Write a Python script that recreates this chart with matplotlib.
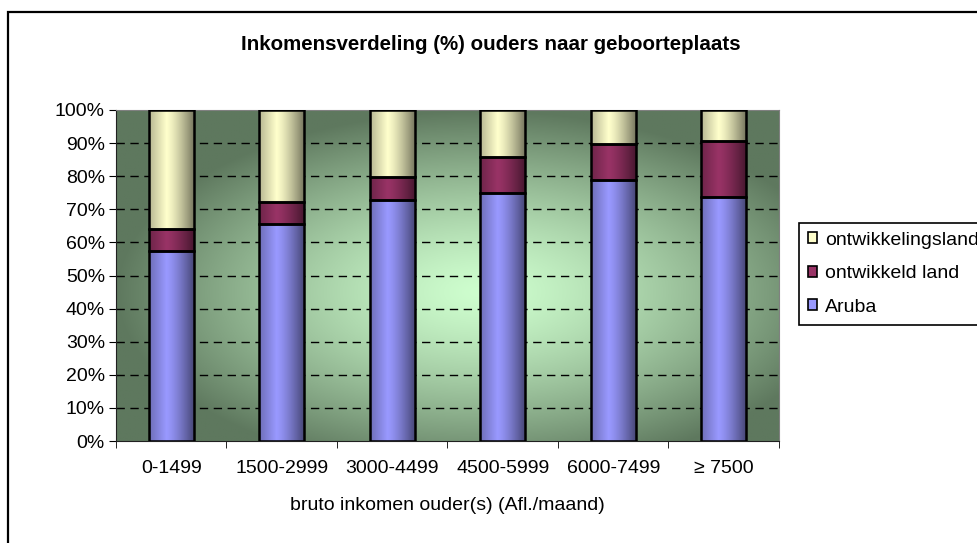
import numpy as np
import matplotlib.pyplot as plt
from matplotlib.patches import Patch, Rectangle

plt.rcParams['font.family'] = ['Liberation Sans', 'DejaVu Sans']

categories = ['0-1499', '1500-2999', '3000-4499', '4500-5999', '6000-7499', '\u2265 7500']
aruba = [57.5, 65.6, 72.8, 74.9, 78.9, 73.7]
ontwikkeld_land = [6.6, 6.7, 7.1, 10.9, 10.8, 16.9]
ontwikkelingsland = [35.9, 27.7, 20.1, 14.2, 10.3, 9.4]

series = [
    ('Aruba', aruba, '#9999ff'),
    ('ontwikkeld land', ontwikkeld_land, '#993366'),
    ('ontwikkelingsland', ontwikkelingsland, '#ffffcc'),
]

BAR_W = 0.41
FS = 14


def cylinder(color, n=64):
    # horizontal shading so each bar looks like a rounded column
    rgb = np.array(plt.matplotlib.colors.to_rgb(color))
    u = np.linspace(0, 1, n)
    f = np.where(u < 0.38, 0.72 + 0.28 * (u / 0.38), 1.0 - 0.55 * ((u - 0.38) / 0.62) ** 1.3)
    img = np.clip(rgb[None, :] * f[:, None], 0, 1)
    return img[None, :, :]


def background(ax):
    ny, nx = 200, 400
    x = np.linspace(0, 1, nx)
    y = np.linspace(0, 1, ny)
    X, Y = np.meshgrid(x, y)
    dx = np.abs(X - 0.55) / 0.55
    dy = np.abs(Y - 0.45) / 0.55
    t = np.clip(np.sqrt(dx ** 2 + dy ** 2) / 1.0, 0, 1) ** 1.35
    light = np.array([206, 254, 206]) / 255
    dark = np.array([94, 120, 94]) / 255
    img = light[None, None, :] * (1 - t[..., None]) + dark[None, None, :] * t[..., None]
    ax.imshow(img, extent=(-0.5, 5.5, 0, 100), origin='lower', aspect='auto', zorder=0)


fig = plt.figure(figsize=(9.78, 5.43), dpi=100)
ax = fig.add_axes([116 / 978, 1 - 441 / 543, (779 - 116) / 978, (441 - 110) / 543])

background(ax)

for v in range(10, 100, 10):
    ax.axhline(v, color='black', lw=1, ls=(0, (6, 4)), zorder=1)

x = np.arange(len(categories))
bottom = np.zeros(len(categories))
for name, vals, color in series:
    shade = cylinder(color)
    for i, v in enumerate(vals):
        ax.imshow(shade, extent=(x[i] - BAR_W / 2, x[i] + BAR_W / 2, bottom[i], bottom[i] + v),
                  aspect='auto', zorder=2, interpolation='bilinear')
    ax.bar(x, vals, BAR_W, bottom=bottom, fill=False, edgecolor='black', linewidth=1.8, zorder=3)
    bottom += np.array(vals)

ax.set_xlim(-0.5, 5.5)
ax.set_ylim(0, 100)
ax.set_yticks(range(0, 101, 10))
ax.set_yticklabels([f'{v}%' for v in range(0, 101, 10)], fontsize=FS)
ax.set_xticks(x)
ax.set_xticklabels(categories, fontsize=FS)
ax.set_xticks(np.arange(-0.5, 5.6, 1), minor=True)
ax.tick_params(axis='x', which='major', length=0, pad=14)
ax.tick_params(axis='x', which='minor', length=5, color='black')
ax.tick_params(axis='y', length=5, color='black', pad=3)
for side in ['top', 'right']:
    ax.spines[side].set_color('#808080')
for side in ['left', 'bottom']:
    ax.spines[side].set_color('#202020')

ax.set_xlabel('bruto inkomen ouder(s) (Afl./maand)', fontsize=FS, labelpad=14)
fig.text(0.502, 1 - 45 / 543, 'Inkomensverdeling (%) ouders naar geboorteplaats',
         fontsize=14.8, fontweight='bold', ha='center', va='center')

handles = [Patch(facecolor=c, edgecolor='black', linewidth=1.2) for _, _, c in series][::-1]
labels = [n for n, _, _ in series][::-1]
leg = fig.legend(handles, labels, loc='upper left', bbox_to_anchor=(799 / 978, 1 - 223 / 543),
                 fontsize=FS, frameon=True, fancybox=False, framealpha=1, edgecolor='black',
                 handlelength=0.5, handleheight=0.5, handletextpad=0.4, labelspacing=0.85,
                 borderpad=0.45, borderaxespad=0)
leg.get_frame().set_linewidth(1.2)

# outer chart border, running off the right and bottom edges
fig.patches.append(Rectangle((8 / 978, -0.1), 1.2, 1 - 12 / 543 + 0.1, transform=fig.transFigure,
                             fill=False, edgecolor='black', linewidth=1.6))

fig.savefig('out.png', dpi=100)
